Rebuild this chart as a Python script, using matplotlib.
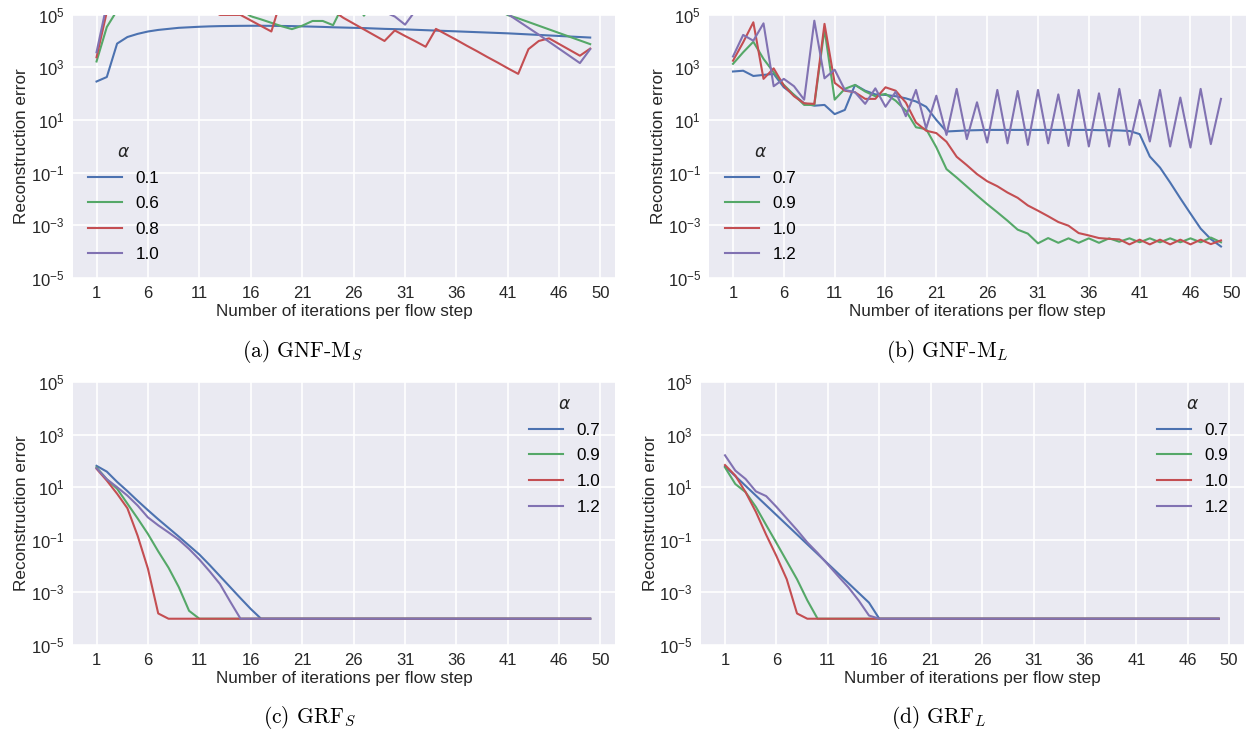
import matplotlib.pyplot as plt
import numpy as np

plt.rcParams['font.family'] = ['Liberation Sans', 'DejaVu Sans']

iters = np.arange(1, 50)
x_ticks = [1, 6, 11, 16, 21, 26, 31, 36, 41, 46, 50]
y_ticks = [1e-5, 1e-3, 1e-1, 1e1, 1e3, 1e5]
colors = ['#4C72B0', '#55A868', '#C44E52', '#8172B2']

# all series are log10(reconstruction error)

# (a) GNF-M_S
gnf_s_alphas = ['0.1', '0.6', '0.8', '1.0']
gnf_s_01 = [2.46, 2.63, 3.9, 4.15, 4.27, 4.36, 4.42, 4.46, 4.5, 4.52,
            4.54, 4.555, 4.565, 4.57, 4.575, 4.578, 4.578, 4.575, 4.57, 4.565,
            4.555, 4.545, 4.535, 4.52, 4.51, 4.5, 4.49, 4.475, 4.46, 4.45,
            4.44, 4.425, 4.41, 4.395, 4.38, 4.365, 4.35, 4.335, 4.32, 4.305,
            4.29, 4.27, 4.25, 4.23, 4.21, 4.19, 4.17, 4.15, 4.13]
gnf_s_06 = [3.22, 4.53, 5.16, 5.6, 5.9, 6.1, 5.8, 6.0, 5.7, 5.9,
            5.6, 5.8, 5.5, 5.4, 5.2, 4.94, 4.82, 4.69, 4.56, 4.45,
            4.58, 4.76, 4.76, 4.6, 5.38, 5.6, 4.96, 5.5, 5.8, 5.6,
            5.9, 5.7, 5.5, 5.8, 5.6, 5.4, 5.7, 5.5, 5.3, 5.2,
            4.98, 4.86, 4.72, 4.58, 4.44, 4.3, 4.16, 4.02, 3.88]
gnf_s_08 = [3.38, 5.1, 5.7, 6.0, 5.8, 6.2, 5.9, 6.1, 5.8, 6.0,
            5.7, 5.2, 4.99, 4.99, 4.99, 4.78, 4.57, 4.36, 5.64, 5.9,
            5.7, 6.0, 5.6, 5.15, 4.88, 4.66, 4.44, 4.22, 4.0, 4.4,
            4.19, 3.99, 3.78, 4.46, 4.25, 4.04, 3.82, 3.61, 3.39, 3.18,
            2.96, 2.75, 3.69, 4.0, 4.1, 3.88, 3.66, 3.44, 3.71]
gnf_s_10 = [3.57, 5.4, 5.9, 6.2, 5.8, 6.1, 5.7, 6.3, 5.9, 6.0,
            5.8, 6.1, 5.7, 5.9, 6.2, 5.8, 6.0, 5.6, 5.9, 6.1,
            5.7, 5.8, 6.0, 5.6, 5.9, 5.7, 5.5, 5.8, 5.1, 4.93,
            4.62, 5.15, 5.6, 5.9, 5.7, 6.0, 5.8, 5.6, 5.5, 5.3,
            5.02, 4.76, 4.5, 4.24, 3.97, 3.7, 3.43, 3.16, 3.69]

# (b) GNF-M_L
gnf_l_alphas = ['0.7', '0.9', '1.0', '1.2']
gnf_l_07 = [2.84, 2.87, 2.67, 2.71, 2.75, 2.24, 1.95, 1.63, 1.54, 1.57,
            1.22, 1.38, 2.33, 2.11, 1.97, 1.95, 1.90, 1.82, 1.70, 1.50,
            1.00, 0.56, 0.58, 0.60, 0.61, 0.62, 0.62, 0.62, 0.62, 0.62,
            0.62, 0.62, 0.62, 0.62, 0.62, 0.62, 0.61, 0.61, 0.60, 0.58,
            0.46, -0.39, -0.81, -1.38, -1.98, -2.56, -3.13, -3.53, -3.81]
gnf_l_09 = [3.13, 3.57, 3.97, 3.32, 2.81, 2.33, 1.95, 1.57, 1.57, 4.45,
            1.77, 2.18, 2.33, 2.08, 1.90, 1.99, 1.73, 1.35, 0.72, 0.65,
            -0.04, -0.87, -1.19, -1.53, -1.87, -2.2, -2.51, -2.83, -3.17, -3.32,
            -3.69, -3.49, -3.67, -3.5, -3.67, -3.5, -3.67, -3.5, -3.63, -3.5,
            -3.65, -3.5, -3.65, -3.5, -3.65, -3.5, -3.65, -3.47, -3.65]
gnf_l_10 = [3.25, 3.95, 4.71, 2.56, 2.96, 2.30, 1.90, 1.63, 1.61, 4.65,
            2.41, 2.11, 2.05, 1.80, 1.80, 2.24, 2.11, 1.66, 0.90, 0.59,
            0.50, 0.17, -0.40, -0.72, -1.06, -1.33, -1.52, -1.76, -1.96, -2.25,
            -2.45, -2.66, -2.88, -3.02, -3.3, -3.39, -3.49, -3.52, -3.54, -3.73,
            -3.55, -3.73, -3.55, -3.73, -3.55, -3.73, -3.55, -3.72, -3.58]
gnf_l_12 = [3.41, 4.23, 4.01, 4.67, 2.28, 2.56, 2.28, 1.77, 4.77, 2.58,
            2.91, 2.14, 2.05, 1.61, 2.20, 1.50, 2.07, 1.14, 2.14, 0.68,
            1.92, 0.43, 2.18, 0.27, 1.67, 0.14, 2.14, 0.11, 2.10, 0.05,
            2.14, 0.11, 1.97, 0.01, 2.14, -0.01, 2.01, -0.01, 2.18, 0.05,
            1.76, 0.18, 2.14, -0.01, 1.85, -0.05, 2.18, 0.08, 1.80]

# (c) GRF_S
grf_s_alphas = ['0.7', '0.9', '1.0', '1.2']
grf_s_07 = [1.81, 1.59, 1.2, 0.85, 0.48, 0.125, -0.22, -0.55, -0.88, -1.22,
            -1.56, -1.96, -2.38, -2.8, -3.22, -3.63, -4, -4, -4, -4,
            -4, -4, -4, -4, -4, -4, -4, -4, -4, -4,
            -4, -4, -4, -4, -4, -4, -4, -4, -4, -4,
            -4, -4, -4, -4, -4, -4, -4, -4, -4]
grf_s_09 = [1.75, 1.3, 0.94, 0.375, -0.19, -0.78, -1.44, -2.06, -2.8, -3.7,
            -4, -4, -4, -4, -4, -4, -4, -4, -4, -4,
            -4, -4, -4, -4, -4, -4, -4, -4, -4, -4,
            -4, -4, -4, -4, -4, -4, -4, -4, -4, -4,
            -4, -4, -4, -4, -4, -4, -4, -4, -4]
grf_s_10 = [1.7, 1.25, 0.75, 0.2, -0.85, -2.1, -3.8, -4, -4, -4,
            -4, -4, -4, -4, -4, -4, -4, -4, -4, -4,
            -4, -4, -4, -4, -4, -4, -4, -4, -4, -4,
            -4, -4, -4, -4, -4, -4, -4, -4, -4, -4,
            -4, -4, -4, -4, -4, -4, -4, -4, -4]
grf_s_12 = [1.72, 1.3, 1.0, 0.68, 0.3, -0.15, -0.45, -0.72, -1.0, -1.35,
            -1.75, -2.2, -2.68, -3.35, -4, -4, -4, -4, -4, -4,
            -4, -4, -4, -4, -4, -4, -4, -4, -4, -4,
            -4, -4, -4, -4, -4, -4, -4, -4, -4, -4,
            -4, -4, -4, -4, -4, -4, -4, -4, -4]

# (d) GRF_L
grf_l_alphas = ['0.7', '0.9', '1.0', '1.2']
grf_l_07 = [1.79, 1.42, 1.05, 0.68, 0.31, -0.06, -0.43, -0.8, -1.17, -1.54,
            -1.91, -2.28, -2.65, -3.02, -3.39, -4, -4, -4, -4, -4,
            -4, -4, -4, -4, -4, -4, -4, -4, -4, -4,
            -4, -4, -4, -4, -4, -4, -4, -4, -4, -4,
            -4, -4, -4, -4, -4, -4, -4, -4, -4]
grf_l_09 = [1.75, 1.12, 0.81, 0.25, -0.44, -1.12, -1.81, -2.5, -3.3, -4,
            -4, -4, -4, -4, -4, -4, -4, -4, -4, -4,
            -4, -4, -4, -4, -4, -4, -4, -4, -4, -4,
            -4, -4, -4, -4, -4, -4, -4, -4, -4, -4,
            -4, -4, -4, -4, -4, -4, -4, -4, -4]
grf_l_10 = [1.84, 1.44, 0.81, 0.06, -0.81, -1.62, -2.5, -3.8, -4, -4,
            -4, -4, -4, -4, -4, -4, -4, -4, -4, -4,
            -4, -4, -4, -4, -4, -4, -4, -4, -4, -4,
            -4, -4, -4, -4, -4, -4, -4, -4, -4, -4,
            -4, -4, -4, -4, -4, -4, -4, -4, -4]
grf_l_12 = [2.21, 1.63, 1.31, 0.84, 0.66, 0.25, -0.19, -0.63, -1.1, -1.5,
            -1.94, -2.38, -2.81, -3.31, -3.88, -4, -4, -4, -4, -4,
            -4, -4, -4, -4, -4, -4, -4, -4, -4, -4,
            -4, -4, -4, -4, -4, -4, -4, -4, -4, -4,
            -4, -4, -4, -4, -4, -4, -4, -4, -4]


def draw_panel(ax, series, labels, legend_loc):
    ax.set_facecolor('#EAEAF2')
    for s, lab, c in zip(series, labels, colors):
        ax.plot(iters, 10.0 ** np.array(s), color=c, lw=1.5, label=lab)
    ax.set_yscale('log')
    ax.set_ylim(1e-5, 1e5)
    ax.set_xlim(-1.33, 51.46)
    ax.set_xticks(x_ticks)
    ax.set_yticks(y_ticks)
    ax.minorticks_off()
    ax.grid(True, color='white', lw=1.2)
    ax.set_axisbelow(True)
    for sp in ax.spines.values():
        sp.set_visible(False)
    ax.tick_params(length=0, labelsize=12, colors='#262626', pad=6)
    ax.set_xlabel('Number of iterations per flow step', fontsize=12.3, color='#262626', labelpad=2)
    ax.set_ylabel('Reconstruction error', fontsize=12.3, color='#262626', labelpad=1)
    leg = ax.legend(title=r'$\alpha$', loc=legend_loc, frameon=False,
                    fontsize=12.3, title_fontsize=12.3, labelspacing=0.62)
    leg.get_title().set_color('#262626')


fig = plt.figure(figsize=(12.51, 7.33), dpi=100)

ax_a = fig.add_axes([0.058, 0.621, 0.434, 0.359])
ax_b = fig.add_axes([0.567, 0.621, 0.429, 0.359])
ax_c = fig.add_axes([0.058, 0.120, 0.434, 0.359])
ax_d = fig.add_axes([0.5604, 0.120, 0.434, 0.359])

draw_panel(ax_a, [gnf_s_01, gnf_s_06, gnf_s_08, gnf_s_10], gnf_s_alphas, 'lower left')
draw_panel(ax_b, [gnf_l_07, gnf_l_09, gnf_l_10, gnf_l_12], gnf_l_alphas, 'lower left')
draw_panel(ax_c, [grf_s_07, grf_s_09, grf_s_10, grf_s_12], grf_s_alphas, 'upper right')
draw_panel(ax_d, [grf_l_07, grf_l_09, grf_l_10, grf_l_12], grf_l_alphas, 'upper right')

cap_kw = dict(ha='center', va='center', fontsize=15.5, family='cmr10', math_fontfamily='cm')
fig.text(0.242, 0.52, r'(a) GNF-M$_S$', **cap_kw)
fig.text(0.757, 0.52, r'(b) GNF-M$_L$', **cap_kw)
fig.text(0.247, 0.021, r'(c) GRF$_S$', **cap_kw)
fig.text(0.750, 0.021, r'(d) GRF$_L$', **cap_kw)

fig.savefig('out.png', dpi=100)
